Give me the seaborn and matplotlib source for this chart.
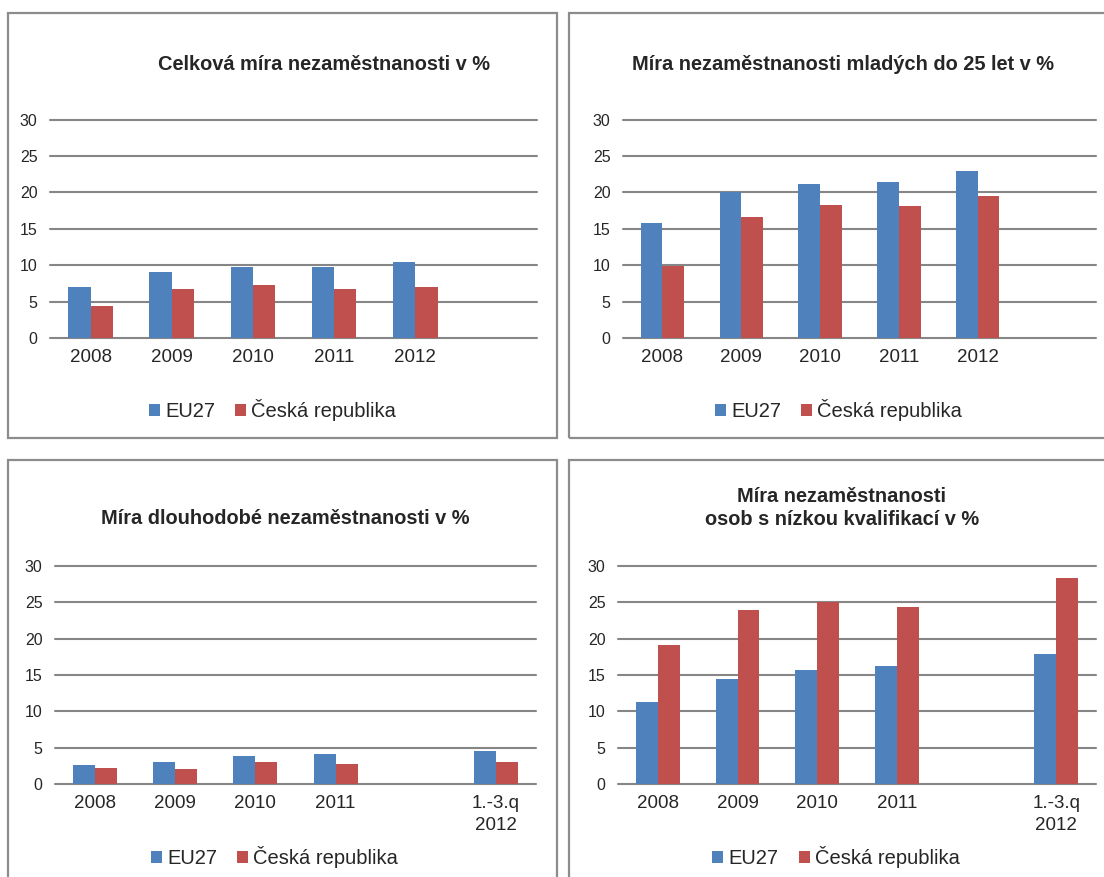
import matplotlib
matplotlib.use("Agg")
import matplotlib.pyplot as plt
from matplotlib.patches import Rectangle, Patch
from matplotlib import font_manager
import pandas as pd
import seaborn as sns

# ── data ─────────────────────────────────────────────────────────────────────
series_names = ["EU27", "Česká republika"]
years = ["2008", "2009", "2010", "2011", "2012"]
years_q = ["2008", "2009", "2010", "2011", "1.-3.q\n2012"]
order_years = years + [" "]                          # empty slot on the right
order_q = ["2008", "2009", "2010", "2011", " ", "1.-3.q\n2012"]  # empty slot before 2012

celkova_eu = [7.0, 9.0, 9.7, 9.7, 10.5]
celkova_cz = [4.4, 6.7, 7.3, 6.7, 7.0]
mladi_eu = [15.8, 20.1, 21.1, 21.4, 22.9]
mladi_cz = [9.9, 16.6, 18.3, 18.1, 19.5]
dlouho_eu = [2.6, 3.0, 3.9, 4.1, 4.5]
dlouho_cz = [2.2, 2.0, 3.0, 2.7, 3.0]
nizka_eu = [11.3, 14.4, 15.7, 16.2, 17.9]
nizka_cz = [19.1, 24.0, 25.0, 24.4, 28.3]

titles = [
    "Celková míra nezaměstnanosti v %",
    "Míra nezaměstnanosti mladých do 25 let v %",
    "Míra dlouhodobé nezaměstnanosti v %",
    "Míra nezaměstnanosti\nosob s nízkou kvalifikací v %",
]

yticks = [0, 5, 10, 15, 20, 25, 30]

# ── style ────────────────────────────────────────────────────────────────────
sns.set_style("white")
plt.rcParams["font.family"] = ["Liberation Sans", "DejaVu Sans"]

# Arial Narrow jaisa font ho toh use karo, warna normal Liberation Sans thoda chhota
installed = {f.name for f in font_manager.fontManager.ttflist}
if "Liberation Sans Narrow" in installed:
    title_family, title_size = ["Liberation Sans Narrow", "DejaVu Sans"], 15.5
else:
    title_family, title_size = ["Liberation Sans", "DejaVu Sans"], 14.4

BLUE = "#4F81BD"
RED = "#C0504D"
GRID = "#868686"
BORDER = "#8C8C8C"
palette = {series_names[0]: BLUE, series_names[1]: RED}

W, H = 1104, 877
fig = plt.figure(figsize=(W / 100, H / 100), dpi=100)


def fx(px):
    return px / W


def fy(py):
    return 1 - py / H


def long_table(cats, eu, cz):
    return pd.DataFrame({
        "kat": cats * 2,
        "serie": [series_names[0]] * len(cats) + [series_names[1]] * len(cats),
        "hodnota": eu + cz,
    })


panels = [
    # data, order, plot box (left, right, top, bottom px), panel frame, title pos, legend y
    (long_table(years, celkova_eu, celkova_cz), order_years, (50, 537, 119.5, 338),
     (8, 13, 557, 438), (324, 64), 410),
    (long_table(years, mladi_eu, mladi_cz), order_years, (623, 1096, 119.5, 338),
     (569, 13, 1120, 438), (843, 64), 410),
    (long_table(years_q, dlouho_eu, dlouho_cz), order_q, (55, 536, 566, 784),
     (8, 460, 557, 900), (285, 519), 857),
    (long_table(years_q, nizka_eu, nizka_cz), order_q, (618, 1096, 566, 784),
     (569, 460, 1120, 900), (842, 508), 857),
]

for i, (df, order, box, frame, tpos, ly) in enumerate(panels):
    # ── panel frame ──
    x0, y0, x1, y1 = frame
    fig.patches.append(Rectangle((fx(x0), fy(y1)), fx(x1 - x0), (y1 - y0) / H,
                                 transform=fig.transFigure, fill=False,
                                 edgecolor=BORDER, linewidth=1.6, zorder=0))

    left, right, top, bottom = box
    ax = fig.add_axes([fx(left), fy(bottom), fx(right - left), (bottom - top) / H])

    sns.barplot(data=df, x="kat", y="hodnota", hue="serie", order=order,
                hue_order=series_names, palette=palette, width=0.55, gap=0,
                linewidth=0, saturation=1, legend=False, ax=ax)

    ax.set_ylim(0, 30)
    ax.set_yticks(yticks)
    ax.set_xlabel("")
    ax.set_ylabel("")
    ax.yaxis.grid(True, color=GRID, linewidth=1.5)
    ax.set_axisbelow(True)
    for gl in ax.get_ygridlines():
        gl.set_clip_on(False)   # top 30 line poora dikhe, half clip na ho
    for s in ax.spines.values():
        s.set_visible(False)
    ax.tick_params(axis="y", length=0, pad=9, labelsize=11.5)
    ax.tick_params(axis="x", length=0, pad=8, labelsize=13.5)
    for lab in ax.get_xticklabels():
        lab.set_linespacing(1.35)

    # ── title ──
    fig.text(fx(tpos[0]), fy(tpos[1]), titles[i], ha="center", va="center",
             fontsize=title_size, fontweight="bold", family=title_family,
             linespacing=1.3)

    # ── legend ──
    handles = [Patch(facecolor=palette[n], edgecolor="none") for n in series_names]
    fig.legend(handles, series_names, loc="center",
               bbox_to_anchor=(fx((left + right) / 2 - 21), fy(ly)),
               ncol=2, frameon=False, fontsize=14.5, handlelength=0.55,
               handleheight=0.55, handletextpad=0.25, columnspacing=1.0,
               borderpad=0, borderaxespad=0)

fig.savefig("out.png", dpi=100)
